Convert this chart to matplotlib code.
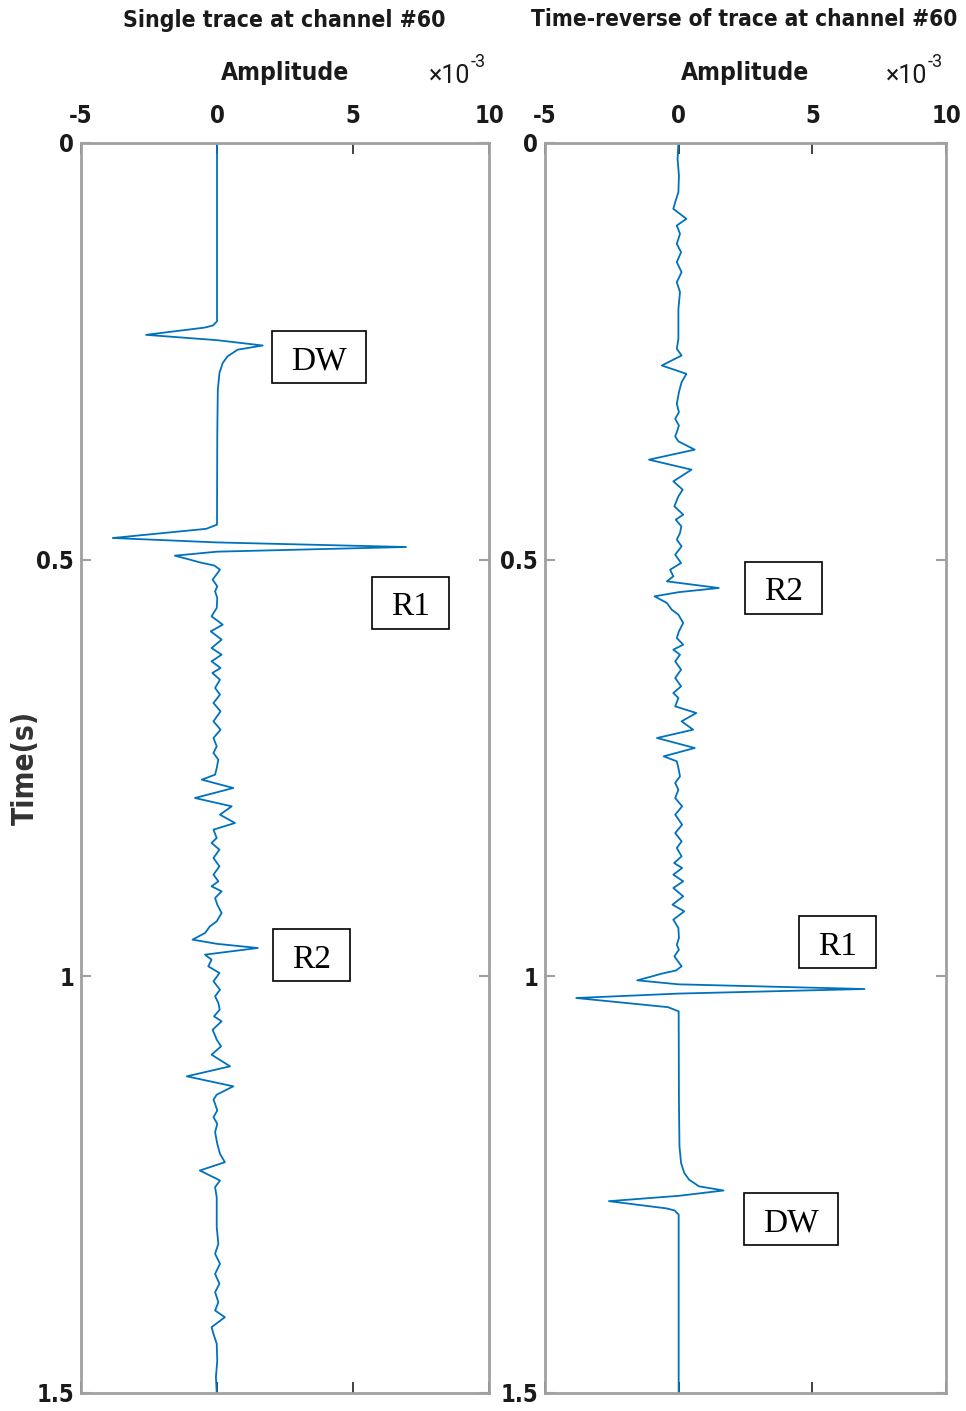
import matplotlib
matplotlib.use("Agg")
import matplotlib.pyplot as plt
from matplotlib import font_manager
from matplotlib.font_manager import FontProperties
from matplotlib.patches import Rectangle
from matplotlib.transforms import ScaledTranslation
import numpy as np

# ---------------- data (amplitude in units of 1e-3) ----------------
trace_time = [
    0.000, 0.214, 0.219, 0.2215, 0.2302, 0.2366, 0.2430, 0.2480, 0.2560, 0.2640,
    0.2760, 0.2960, 0.3500, 0.4580, 0.4630, 0.4740, 0.4793, 0.4848, 0.4904, 0.4952,
    0.4995, 0.5035, 0.5070, 0.5120, 0.5240, 0.5320, 0.5380, 0.5460, 0.5580, 0.5680,
    0.5780, 0.5860, 0.5960, 0.6060, 0.6140, 0.6220, 0.6300, 0.6360, 0.6440, 0.6540,
    0.6620, 0.6720, 0.6820, 0.6940, 0.7040, 0.7140, 0.7240, 0.7320, 0.7400, 0.7500,
    0.7580, 0.7640, 0.7740, 0.7860, 0.7960, 0.8060, 0.8160, 0.8240, 0.8340, 0.8400,
    0.8480, 0.8580, 0.8680, 0.8780, 0.8860, 0.8920, 0.8980, 0.9060, 0.9140, 0.9240,
    0.9340, 0.9400, 0.9480, 0.9560, 0.9610, 0.9660, 0.9740, 0.9800, 0.9880, 0.9960,
    1.0060, 1.0160, 1.0240, 1.0320, 1.0400, 1.0480, 1.0540, 1.0640, 1.0760, 1.0840,
    1.0940, 1.1080, 1.1200, 1.1320, 1.1420, 1.1480, 1.1530, 1.1610, 1.1690, 1.1770,
    1.1870, 1.2010, 1.2130, 1.2230, 1.2330, 1.2450, 1.2530, 1.2650, 1.2810, 1.3010,
    1.3210, 1.3330, 1.3450, 1.3570, 1.3690, 1.3790, 1.3910, 1.4010, 1.4090, 1.4210,
    1.4290, 1.4410, 1.4610, 1.4810, 1.5000,
]
trace_amp = [
    0.00, 0.00, -0.15, -0.45, -2.61, 0.00, 1.68, 0.76, 0.39, 0.21,
    0.09, 0.03, 0.01, 0.00, -0.40, -3.83, 0.00, 6.95, 0.00, -1.55,
    -1.05, -0.60, -0.10, 0.11, -0.16, 0.01, -0.07, 0.01, -0.01, -0.20,
    0.21, -0.23, 0.17, -0.20, 0.17, -0.20, 0.13, -0.17, 0.11, -0.07,
    0.11, -0.13, 0.13, -0.13, 0.13, -0.13, -0.01, -0.13, 0.05, -0.01,
    -0.07, -0.56, 0.60, -0.81, 0.54, 0.11, 0.66, -0.13, -0.01, -0.20,
    0.09, -0.13, 0.09, -0.13, 0.05, -0.20, 0.17, -0.07, 0.01, 0.17,
    -0.01, -0.26, -0.44, -0.90, 0.00, 1.50, -0.44, -0.20, -0.32, 0.09,
    -0.13, 0.11, -0.07, 0.05, 0.10, -0.11, 0.17, -0.16, -0.01, 0.15,
    -0.20, 0.48, -1.11, 0.60, -0.01, -0.13, -0.07, 0.01, -0.13, 0.01,
    -0.07, 0.01, 0.11, 0.29, -0.63, 0.11, -0.07, -0.01, -0.01, -0.01,
    0.05, -0.07, 0.11, -0.07, 0.09, -0.07, 0.05, -0.07, 0.29, -0.20,
    -0.13, -0.01, 0.01, -0.04, -0.01,
]
record_length = 1.5

x_ticks = [-5, 0, 5, 10]
x_ticklabels = ["-5", "0", "5", "10"]
y_ticks = [0, 0.5, 1, 1.5]
y_ticklabels = ["0", "0.5", "1", "1.5"]

titles = ["Single trace at channel #60", "Time-reverse of trace at channel #60"]
left_labels = ["DW", "R1", "R2"]
left_label_amp = [3.75, 7.13, 3.49]
left_label_time = [0.2566, 0.5516, 0.975]
right_labels = ["R2", "R1", "DW"]
right_label_amp = [3.93, 5.94, 4.19]
right_label_time = [0.5336, 0.9592, 1.2914]

# ---------------- fonts ----------------
def pick_condensed_bold():
    best = None
    for f in font_manager.fontManager.ttflist:
        nm = f.name
        st = str(f.stretch).lower()
        is_cond = ("Narrow" in nm or "Condensed" in nm or "condensed" in st)
        w = f.weight
        try:
            w = int(w)
        except Exception:
            w = 700 if "bold" in str(w).lower() else 400
        if is_cond and w >= 600 and "Mono" not in nm and "Serif" not in nm:
            score = 0 if "Liberation" in nm else 1
            if best is None or score < best[0]:
                best = (score, f.fname)
    return best[1] if best else None

cond_file = pick_condensed_bold()
if cond_file:
    def fp(size):
        return FontProperties(fname=cond_file, size=size)
else:
    def fp(size):
        return FontProperties(family=["Roboto", "DejaVu Sans"], weight="bold", size=size)

serif = "Liberation Serif"
plt.rcParams["font.family"] = ["Roboto", "DejaVu Sans"]

W, H = 966, 1411
fig = plt.figure(figsize=(W / 100, H / 100), dpi=100)
renderer = fig.canvas.get_renderer()

def fx(px):
    return px / W

def fy(py):
    return 1 - py / H

def fit_width(txt, target):
    w = txt.get_window_extent(renderer).width
    if w > 0:
        txt.set_fontsize(txt.get_fontsize() * target / w)

axes_px = [(81, 489), (545, 946)]
top_px, bot_px = 143, 1393
spine_col = "#a0a0a0"
text_col = "#1a1a1a"
line_col = "#0072BD"

# probe size for tick labels
probe = fig.text(0, 0, "10", fontproperties=fp(20))
fit_width(probe, 30)
tick_fs = probe.get_fontsize()
probe.remove()

t_arr = np.array(trace_time)
a_arr = np.array(trace_amp)
series = [(t_arr, a_arr), (record_length - t_arr[::-1], a_arr[::-1])]
labels_sets = [
    (left_labels, left_label_amp, left_label_time),
    (right_labels, right_label_amp, right_label_time),
]
title_widths = [322, 427]
title_centers = [284, 744]

axes = []
for i, (x0, x1) in enumerate(axes_px):
    ax = fig.add_axes([fx(x0), fy(bot_px), fx(x1 - x0), (bot_px - top_px) / H])
    axes.append(ax)
    tt, aa = series[i]
    ax.plot(aa, tt, color=line_col, lw=1.3, solid_joinstyle="round")
    ax.set_xlim(-5, 10)
    ax.set_ylim(1.5, 0)
    ax.xaxis.tick_top()
    ax.set_xticks(x_ticks)
    ax.set_xticklabels(x_ticklabels)
    ax.set_yticks(y_ticks)
    ax.set_yticklabels(y_ticklabels)
    ax.tick_params(axis="x", which="both", direction="in", length=8, width=1.3,
                   colors="#333333", labelcolor=text_col, top=True, bottom=True,
                   pad=11)
    ax.tick_params(axis="y", which="both", direction="in", length=7, width=1.5,
                   colors=spine_col, labelcolor=text_col, left=True, right=True,
                   pad=5)
    for lab in ax.get_xticklabels() + ax.get_yticklabels():
        lab.set_fontproperties(fp(tick_fs))
    for s in ax.spines.values():
        s.set_color(spine_col)
        s.set_linewidth(2)

    t = fig.text(fx(title_centers[i]), fy(20), titles[i], ha="center",
                 va="center", fontproperties=fp(20), color=text_col)
    fit_width(t, title_widths[i])
    cx = (x0 + x1) / 2
    a = fig.text(fx(cx), fy(73), "Amplitude", ha="center", va="center",
                 fontproperties=fp(20), color=text_col)
    fit_width(a, 128)
    fig.text(fx(x1 - 39), fy(76), "\u00d710", ha="center", va="center",
             fontproperties=FontProperties(family=["Roboto", "DejaVu Sans"], size=18),
             color=text_col)
    fig.text(fx(x1 - 11), fy(62), "-3", ha="center", va="center",
             fontproperties=FontProperties(family=["Roboto", "DejaVu Sans"], size=13),
             color=text_col)

yl = fig.text(fx(25), fy(768), "Time(s)", rotation=90, ha="center", va="center",
              fontproperties=fp(20), color="#333333")
bb = yl.get_window_extent(renderer)
yl.set_fontsize(yl.get_fontsize() * 114 / bb.height)

# annotation labels with boxes
shift = ScaledTranslation(0, -4 / 100, fig.dpi_scale_trans)
texts = []
for ax, (labs, amps, tms) in zip(axes, labels_sets):
    for lab, a, t in zip(labs, amps, tms):
        txt = ax.text(a, t, lab, ha="center", va="center", fontsize=24,
                      family=serif, color="black", transform=ax.transData + shift)
        texts.append((ax, txt))

fig.canvas.draw()
for ax, txt in texts:
    bb = txt.get_window_extent(renderer)
    cxp = (bb.x0 + bb.x1) / 2
    cyp = (bb.y0 + bb.y1) / 2 + 4
    w = bb.width + 38
    h = 52
    rect = Rectangle((cxp - w / 2, cyp - h / 2), w, h, transform=None,
                     fill=False, edgecolor="black", lw=1.2, zorder=5)
    fig.add_artist(rect)

fig.savefig("out.png", dpi=100)
